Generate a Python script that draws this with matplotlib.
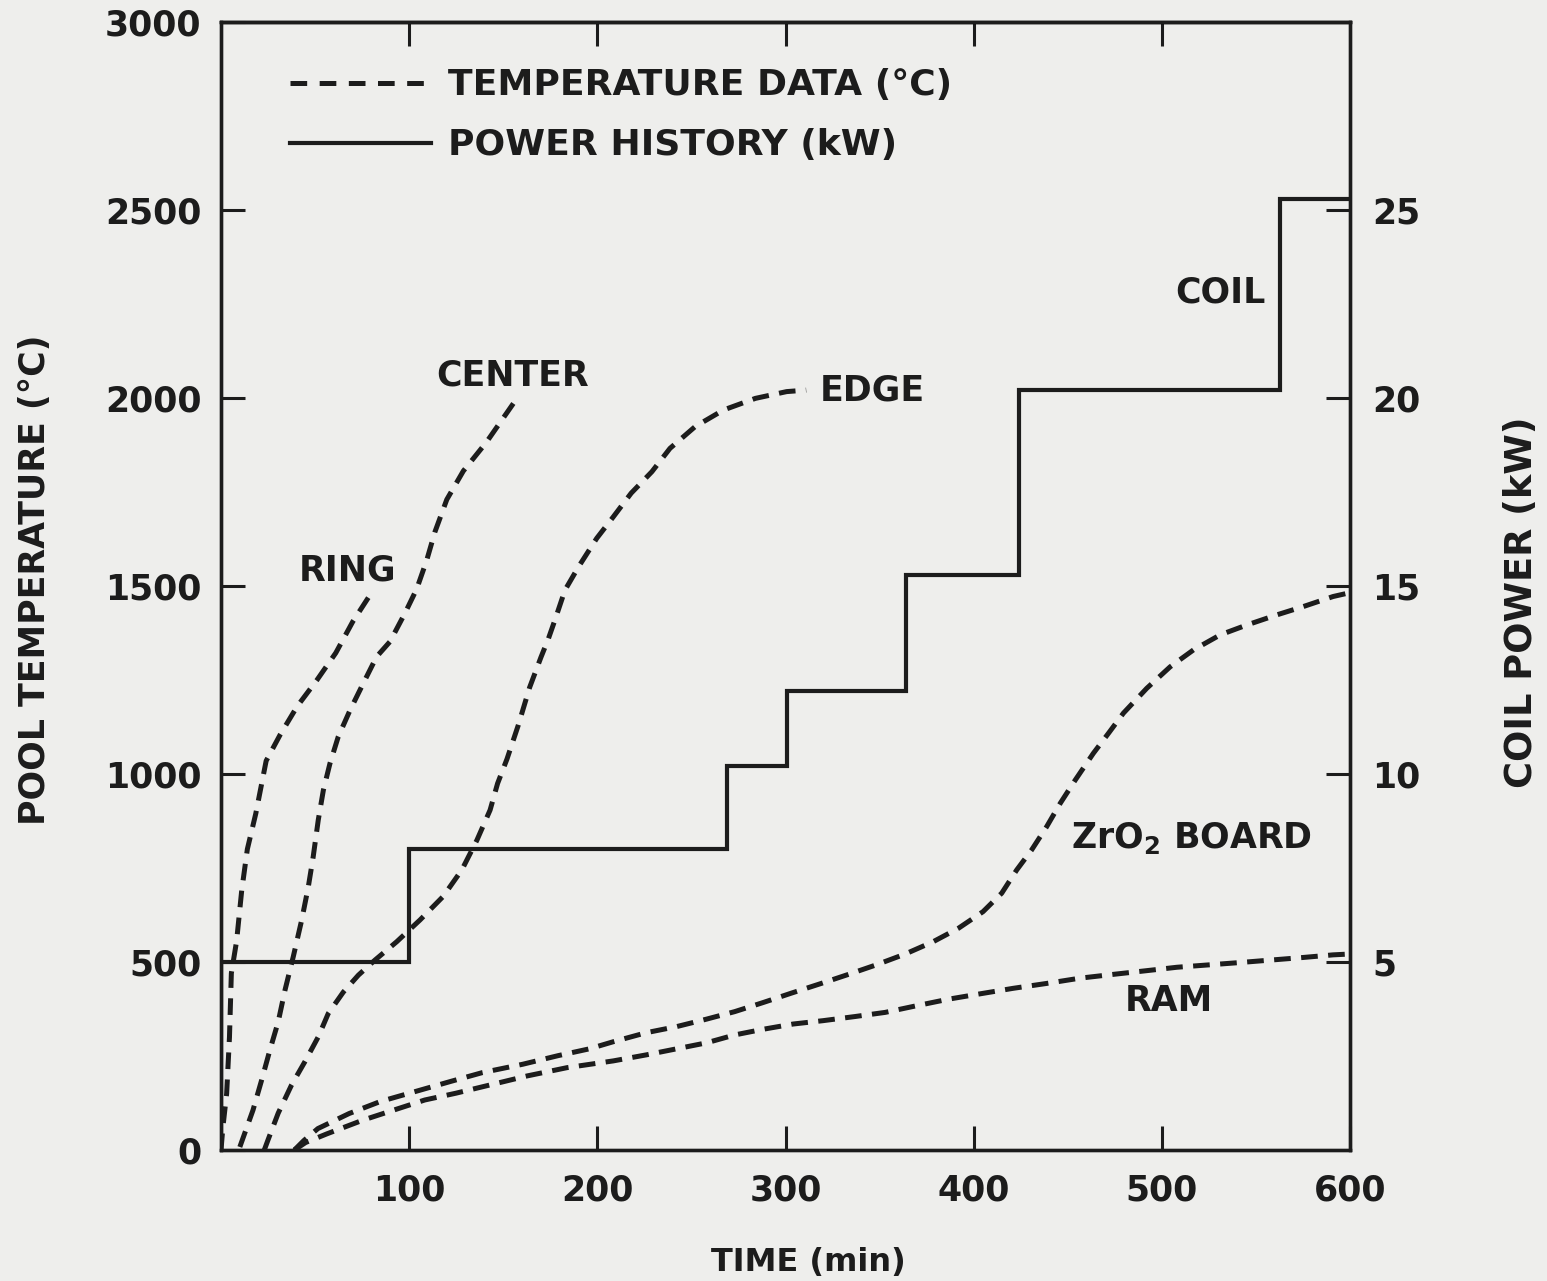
import matplotlib
matplotlib.use('Agg')
import matplotlib.pyplot as plt
from matplotlib.lines import Line2D

plt.rcParams['font.family'] = ['DejaVu Sans']
plt.rcParams['font.weight'] = 'bold'
plt.rcParams['lines.scale_dashes'] = False
plt.rcParams['mathtext.default'] = 'bf'

BG = '#eeeeec'
INK = '#1c1c1c'

# ---------------- data ----------------
ring_t = [0, 1, 3, 4.5, 5.5, 8.3, 11, 14, 18.5, 24, 31.5, 40.5, 51, 61, 70, 81]
ring_T = [0, 60, 150, 300, 470, 556, 690, 800, 895, 1035, 1105, 1180, 1250, 1322, 1405, 1490]

center_t = [10, 17, 21.6, 26, 30.4, 34, 38.4, 42.9, 46.4, 49, 51.7, 54.4, 57.9, 62.3, 68.6,
            75.6, 82.7, 89.8, 97.8, 104, 109.3, 113.7, 120, 128.8, 141, 156]
center_T = [8, 106, 186, 266, 341, 425, 514, 612, 700, 780, 878, 957, 1028, 1099, 1170,
            1241, 1312, 1352, 1428, 1492, 1568, 1644, 1730, 1806, 1882, 1990]

edge_t = [23, 25, 30.4, 37.5, 44.6, 51.7, 57, 65, 73, 81.8, 93.4, 105.8, 118, 128, 136, 143,
          147, 152, 158, 164, 170, 174, 177.5, 182.8, 190, 199.7, 208.5, 218, 229, 238.6, 252,
          267, 284, 300.6, 311]
edge_T = [0, 27, 98, 173, 235, 301, 363, 420, 465, 505, 554, 612, 674, 745, 824, 904,
          975, 1040, 1130, 1230, 1310, 1360, 1410, 1489, 1551, 1627, 1684, 1747, 1804, 1866, 1924,
          1968, 1999, 2017, 2021]

zro2_t = [39, 44, 51.5, 68.1, 84.7, 103.6, 122.5, 139, 160.3, 179.2, 195.7, 208.5, 226, 242, 258,
          273, 288, 303, 319, 334, 348, 363.5, 378.5, 392, 405, 414.9, 422.9, 430.8, 438.8, 446,
          454, 463.6, 471.6, 479.6, 492, 504.4, 516.8, 531, 545, 561, 575, 591, 598]
zro2_T = [0, 25, 57, 97, 129, 156, 183, 206, 228, 251, 269, 288, 312, 328, 348,
          368, 392, 417, 443, 468, 492, 521, 554, 590, 634, 683, 745, 798, 860, 922,
          984, 1055, 1108, 1162, 1228, 1285, 1330, 1370, 1396, 1423, 1445, 1472, 1480]

ram_t = [39, 45, 56.3, 75.2, 91.7, 108.3, 124.8, 143.8, 162.7, 183.9, 208.5, 226, 242, 258, 273,
         288, 304, 320, 337, 353, 369, 386.5, 403, 421, 438.8, 456.5, 474, 492, 508, 524, 540,
         557.5, 575, 591, 599]
ram_T = [0, 20, 43, 79, 106, 133, 151, 174, 197, 219, 237, 253, 269, 285, 306,
         321, 335, 344, 355, 366, 383, 401, 415, 430, 443, 457, 467, 477, 486, 492, 498,
         505, 512, 519, 521]

power_t = [0, 0, 100, 269, 301, 364, 424, 563, 600]
power_kw = [0, 5, 8, 10.2, 12.2, 15.3, 20.2, 25.3, 25.3]

x_ticks = [100, 200, 300, 400, 500, 600]
top_ticks = [100, 200, 300, 400, 500]
temp_ticks = [0, 500, 1000, 1500, 2000, 2500, 3000]
power_ticks = [5, 10, 15, 20, 25]

# ---------------- figure ----------------
W, H = 1547, 1281
fig = plt.figure(figsize=(W / 100, H / 100), dpi=100, facecolor=BG)
L, R, B, T = 221, 1350, 1150, 22
ax = fig.add_axes([L / W, 1 - B / H, (R - L) / W, (B - T) / H])
ax.set_facecolor(BG)
ax.set_xlim(0, 600)
ax.set_ylim(0, 3000)
ax2 = ax.twinx()
ax2.set_ylim(0, 30)

dash = (0, (12, 7.5))
lw_d = 3.6
for tt, TT in [(ring_t, ring_T), (center_t, center_T), (edge_t, edge_T),
               (zro2_t, zro2_T), (ram_t, ram_T)]:
    ax.plot(tt, TT, color=INK, lw=lw_d, linestyle=dash)

ax2.plot(power_t, power_kw, color=INK, lw=3.0, drawstyle='steps-post',
         solid_joinstyle='miter')

for a in (ax, ax2):
    for s in a.spines.values():
        s.set_linewidth(2.4)
        s.set_color(INK)

ax.set_xticks(x_ticks)
ax.set_xticklabels([str(v) for v in x_ticks])
ax.set_yticks(temp_ticks)
ax.set_yticklabels([str(v) for v in temp_ticks])
ax.tick_params(axis='x', direction='in', length=17, width=2.2, pad=17,
               labelsize=25, colors=INK, bottom=True)
ax.tick_params(axis='y', direction='in', length=17, width=2.2, pad=14,
               labelsize=25, colors=INK, right=False)
ax2.set_yticks(power_ticks)
ax2.set_yticklabels([str(v) for v in power_ticks])
ax2.tick_params(axis='y', direction='in', length=17, width=2.2, pad=16,
                labelsize=25, colors=INK)

# top ticks (no labels)
axt = ax.secondary_xaxis('top')
axt.set_xticks(top_ticks)
axt.tick_params(direction='in', length=17, width=2.2, labeltop=False, colors=INK)
axt.spines['top'].set_linewidth(2.4)

# curve labels
fs = 25
ax.text(67.5, 1540, 'RING', fontsize=fs, ha='center', va='center', color=INK)
ax.text(155, 2060, 'CENTER', fontsize=fs, ha='center', va='center', color=INK)
ax.text(318, 2021, 'EDGE', fontsize=fs, ha='left', va='center', color=INK)
ax.text(531, 2280, 'COIL', fontsize=fs, ha='center', va='center', color=INK)
ax.text(516, 830, r'ZrO$_2$ BOARD', fontsize=fs, ha='center', va='center', color=INK)
ax.text(504, 395, 'RAM', fontsize=fs, ha='center', va='center', color=INK)

# legend
leg = ax2.legend([Line2D([], [], color=INK, lw=lw_d, linestyle=(0, (12, 9))),
                  Line2D([], [], color=INK, lw=3.0)],
                 ['TEMPERATURE DATA (°C)', 'POWER HISTORY (kW)'],
                 loc='upper left', bbox_to_anchor=(0.0615, 0.959), frameon=False,
                 fontsize=26, handlelength=3.88, handletextpad=0.47,
                 labelspacing=0.72, borderpad=0, borderaxespad=0)
for txt in leg.get_texts():
    txt.set_color(INK)

# axis titles
fig.text(35 / W, 1 - 580 / H, 'POOL TEMPERATURE (°C)', rotation=90, fontsize=25,
         ha='center', va='center', color=INK)
fig.text(1521 / W, 1 - 602 / H, 'COIL POWER (kW)', rotation=90, fontsize=26.5,
         ha='center', va='center', color=INK)
fig.text(808 / W, 1 - 1262 / H, 'TIME (min)', fontsize=23,
         ha='center', va='center', color=INK)

fig.savefig('out.png', dpi=100, facecolor=BG)
